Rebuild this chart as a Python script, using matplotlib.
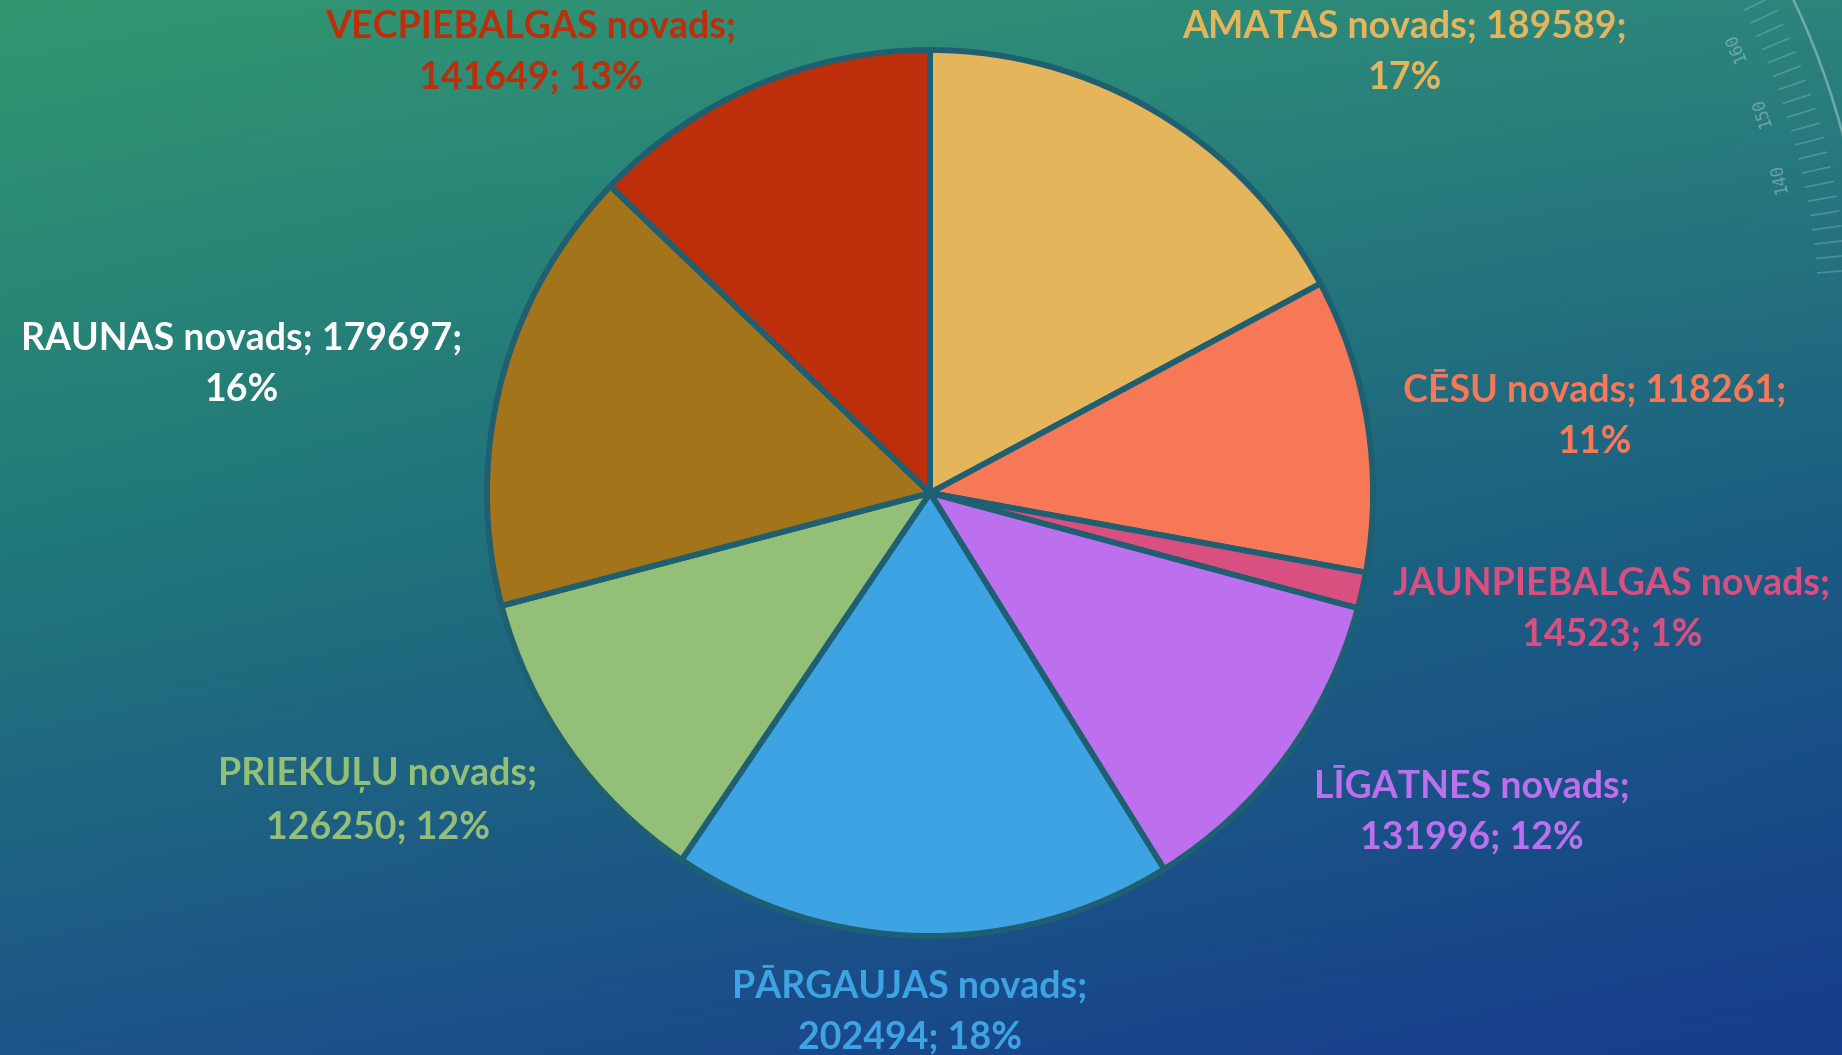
import numpy as np
import matplotlib.pyplot as plt
from matplotlib.patches import Arc

# data
regions = ['AMATAS novads', 'CĒSU novads', 'JAUNPIEBALGAS novads', 'LĪGATNES novads',
           'PĀRGAUJAS novads', 'PRIEKUĻU novads', 'RAUNAS novads', 'VECPIEBALGAS novads']
values = [189589, 118261, 14523, 131996, 202494, 126250, 179697, 141649]
percents = ['17%', '11%', '1%', '12%', '18%', '12%', '16%', '13%']
colors = ['#E4B55A', '#F77856', '#D94F7F', '#BC70EE', '#3EA3E3', '#93BF76', '#A3741A', '#BC2F0A']
label_colors = ['#E4B55A', '#F77856', '#D94F7F', '#BC70EE', '#3EA3E3', '#93BF76', '#FFFFFF', '#BC2F0A']

# label text, line break as in the reference
label_texts = [
    f'{regions[0]}; {values[0]};\n{percents[0]}',
    f'{regions[1]}; {values[1]};\n{percents[1]}',
    f'{regions[2]};\n{values[2]}; {percents[2]}',
    f'{regions[3]};\n{values[3]}; {percents[3]}',
    f'{regions[4]};\n{values[4]}; {percents[4]}',
    f'{regions[5]};\n{values[5]}; {percents[5]}',
    f'{regions[6]}; {values[6]};\n{percents[6]}',
    f'{regions[7]};\n{values[7]}; {percents[7]}',
]
# label centres in figure pixels (x, y from top)
label_pos = [(1405, 52), (1595, 414), (1612, 609), (1472, 810),
             (910, 1010), (378, 801), (242, 364), (531, 52)]

W, H = 1842, 1055
fig = plt.figure(figsize=(W / 100, H / 100), dpi=100)

# gradient background
bg = fig.add_axes([0, 0, 1, 1])
top_l, top_r = np.array([49, 151, 112]), np.array([44, 132, 124])
mid_l, mid_r = np.array([33, 122, 122]), np.array([27, 92, 130])
bot_l, bot_r = np.array([29, 84, 136]), np.array([22, 60, 141])
xs = np.linspace(0, 1, 200)[None, :, None]
ys = np.linspace(0, 1, 120)[:, None, None]
top = top_l + (top_r - top_l) * xs
mid = mid_l + (mid_r - mid_l) * xs
bot = bot_l + (bot_r - bot_l) * xs
img = np.where(ys < 0.5, top + (mid - top) * (ys / 0.5), mid + (bot - mid) * ((ys - 0.5) / 0.5))
bg.imshow(img / 255.0, aspect='auto', extent=[0, W, H, 0], interpolation='bilinear')
bg.set_xlim(0, W)
bg.set_ylim(H, 0)
bg.axis('off')

# decorative dial in the top right corner
cx, cy, r = 1100, 330, 768
bg.add_patch(Arc((cx, cy), 2 * r, 2 * r, theta1=-32, theta2=-5, color='#a8d0cf', lw=1.8, alpha=0.55))
for a in np.arange(-31, -4, 1.15):
    t = np.deg2rad(a)
    r0, r1 = r - 48, r - 20
    bg.plot([cx + r0 * np.cos(t), cx + r1 * np.cos(t)], [cy + r0 * np.sin(t), cy + r1 * np.sin(t)],
            color='#8fbcbc', lw=1.2, alpha=0.4)
for a, s in [(-24, '160'), (-18.2, '150'), (-12.6, '140')]:
    t = np.deg2rad(a)
    rr = r - 72
    bg.text(cx + rr * np.cos(t), cy + rr * np.sin(t), s, color='#9cc6c4', alpha=0.6,
            fontsize=12, family='DejaVu Sans Mono', rotation=90 - a,
            ha='center', va='center')

# pie
R, pcx, pcy = 443, 930, 493
ax = fig.add_axes([(pcx - R) / W, (H - pcy - R) / H, 2 * R / W, 2 * R / H])
ax.pie(values, colors=colors, startangle=90, counterclock=False, radius=1,
       wedgeprops=dict(edgecolor='#1f5f72', linewidth=4.2))
ax.set_xlim(-1, 1)
ax.set_ylim(-1, 1)
ax.set_aspect('equal')
ax.axis('off')

for txt, (px, py), c in zip(label_texts, label_pos, label_colors):
    fig.text(px / W, 1 - py / H, txt, color=c, fontsize=27, fontweight='bold',
             family='Lato', ha='center', va='center', multialignment='center', linespacing=1.62)

fig.savefig('out.png', dpi=100)
